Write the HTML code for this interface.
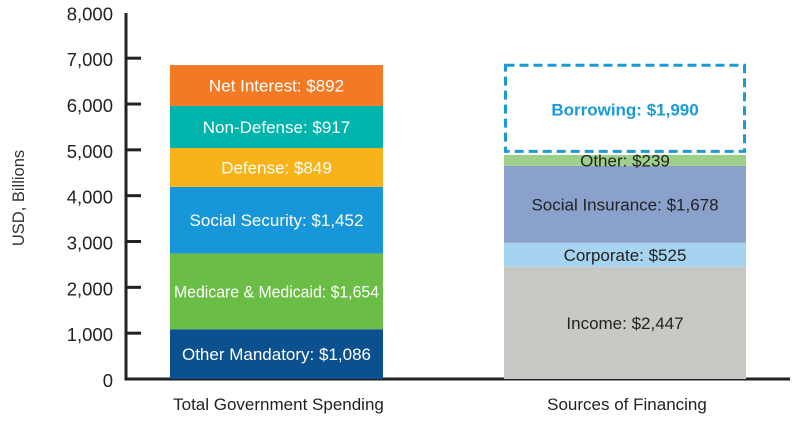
<!DOCTYPE html>
<html><head><meta charset="utf-8"><style>
body{margin:0;background:#fff;font-family:"Liberation Sans",sans-serif;}
svg text{font-family:"Liberation Sans",sans-serif;}
</style></head><body>
<svg id="chart" width="802" height="419"></svg>
<script>
const categories=["Total Government Spending","Sources of Financing"];
const spendingLabels=["Other Mandatory","Medicare & Medicaid","Social Security","Defense","Non-Defense","Net Interest"];
const spendingValues=[1086,1654,1452,849,917,892];
const financingLabels=["Income","Corporate","Social Insurance","Other","Borrowing"];
const financingValues=[2447,525,1678,239,1990];
const yTicks=[0,1000,2000,3000,4000,5000,6000,7000,8000];
const spendColors=["#0b5190","#6abd45","#1797d9","#f9b31a","#00b4ac","#f27a24"];
const finColors=["#c8c9c4","#a6d3ef","#8aa2cb","#9fd08b",null];
const svg=document.getElementById('chart');
const NS="http://www.w3.org/2000/svg";
const y0=379,kpx=0.04583;
const y=v=>y0-v*kpx;
const barX=[170,504],barW=[213,242];
function mk(tag,attrs,parent){const e=document.createElementNS(NS,tag);for(const k in attrs)e.setAttribute(k,attrs[k]);(parent||svg).appendChild(e);return e;}
function fit(t,max){try{if(t.getComputedTextLength()>max){t.setAttribute('textLength',max);t.setAttribute('lengthAdjust','spacingAndGlyphs');}}catch(e){}}
const fmt=v=>v.toLocaleString('en-US');
let ax=mk('line',{x1:126,y1:13,x2:126,y2:380,stroke:'#222','stroke-width':3});


let bx=mk('line',{x1:124.5,y1:379,x2:790,y2:379,stroke:'#222','stroke-width':3});


yTicks.forEach(t=>{
  if(t>0&&t<8000){let tk=mk('line',{x1:126,x2:141,y1:y(t),y2:y(t),stroke:'#222','stroke-width':3});
  
  }
  let tl=mk('text',{x:113,y:y(t)+8,'text-anchor':'end','font-size':18.5,fill:'#222'});
  tl.textContent=fmt(t);
  
  
});
let yt=mk('text',{x:0,y:0,transform:'translate(24,198) rotate(-90)','text-anchor':'middle','font-size':16.5,fill:'#333'});
yt.textContent='USD, Billions';


categories.forEach((c,i)=>{
  let t=mk('text',{x:barX[i]+barW[i]/2+2,y:410,'text-anchor':'middle','font-size':17,fill:'#222'});
  t.textContent=c;
  
  
});
let acc=0;
spendingValues.forEach((v,i)=>{
  const r=mk('rect',{x:barX[0],y:y(acc+v),width:barW[0],height:v*kpx,fill:spendColors[i]});
  
  
  const t=mk('text',{x:barX[0]+barW[0]/2,y:y(acc+v/2)+6,'text-anchor':'middle','font-size':17,'font-weight':'500',fill:'#fff'});
  t.textContent=spendingLabels[i]+': $'+fmt(v);
  
  
  fit(t,barW[0]-8);
  acc+=v;
});
acc=0;
financingValues.forEach((v,i)=>{
  let r;
  if(finColors[i]){r=mk('rect',{x:barX[1],y:y(acc+v),width:barW[1],height:v*kpx,fill:finColors[i]});}
  else{r=mk('rect',{x:barX[1]+1.5,y:y(acc+v)+1.5,width:barW[1]-3,height:v*kpx-5,fill:'none',stroke:'#1a9ad6','stroke-width':3,'stroke-dasharray':'9,5'});}
  
  
  const t=mk('text',{x:barX[1]+barW[1]/2,y:y(acc+v/2)+6,'text-anchor':'middle','font-size':17,'font-weight':finColors[i]?'normal':'bold',fill:finColors[i]?'#222':'#1a9ad6'});
  t.textContent=financingLabels[i]+': $'+fmt(v);
  
  
  acc+=v;
});
</script>
</body></html>
